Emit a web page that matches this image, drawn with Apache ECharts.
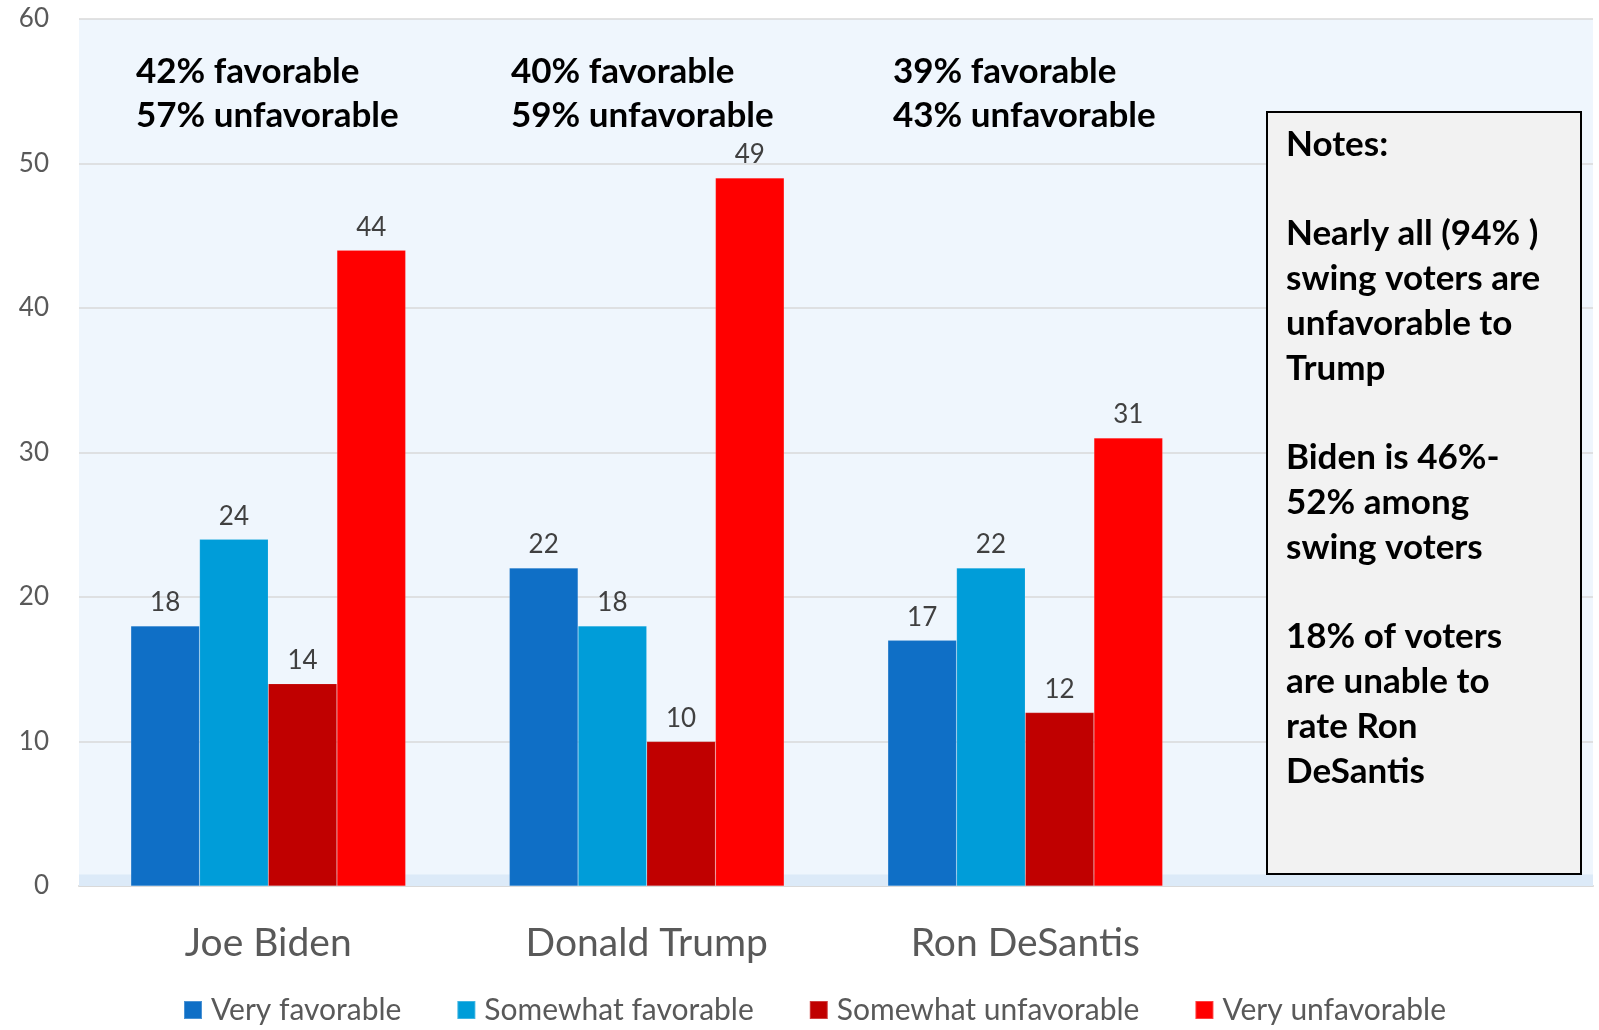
<!DOCTYPE html>
<html>
<head>
<meta charset="utf-8">
<script src="https://cdn.jsdelivr.net/npm/echarts@6/dist/echarts.min.js"></script>
<style>
html,body{margin:0;padding:0;background:#fff;}
#chart{width:1599px;height:1030px;}
</style>
</head>
<body>
<div id="chart"></div>
<script>
const categories = ['Joe Biden', 'Donald Trump', 'Ron DeSantis', ''];
const seriesNames = ['Very favorable', 'Somewhat favorable', 'Somewhat unfavorable', 'Very unfavorable'];
const veryFavorable = [18, 22, 17, '-'];
const somewhatFavorable = [24, 18, 22, '-'];
const somewhatUnfavorable = [14, 10, 12, '-'];
const veryUnfavorable = [44, 49, 31, '-'];
const colors = ['#0F6FC6', '#009DD9', '#C00000', '#FF0000'];
const summaries = [
  '42% favorable\n57% unfavorable',
  '40% favorable\n59% unfavorable',
  '39% favorable\n43% unfavorable'
];
const notesText = 'Notes:\n\nNearly all (94% )\nswing voters are\nunfavorable to\nTrump\n\nBiden is 46%-\n52% among\nswing voters\n\n18% of voters\nare unable to\nrate Ron\nDeSantis';
const yTicks = {min: 0, max: 60, interval: 10};

const FONT = 'Lato, "Open Sans", sans-serif';
const chart = echarts.init(document.getElementById('chart'));

const values = [veryFavorable, somewhatFavorable, somewhatUnfavorable, veryUnfavorable];
const series = values.map((d, i) => ({
  name: seriesNames[i],
  type: 'bar',
  data: d,
  barGap: '0%',
  barCategoryGap: '27.4%',
  itemStyle: {color: colors[i], borderColor: 'rgba(255,255,255,0.25)', borderWidth: 0.5},
  label: {show: true, position: 'top', distance: 10, color: '#404040', fontSize: 26, fontFamily: FONT},
  markArea: i === 0 ? {
    silent: true,
    itemStyle: {color: '#DCEAF8'},
    data: [[{yAxis: 0}, {yAxis: 0.8}]]
  } : undefined
}));

const summaryGraphics = [136, 511, 893].map((x, i) => ({
  type: 'text',
  left: x,
  top: 50,
  z: 100,
  style: {text: summaries[i], font: 'bold 35px ' + FONT, fill: '#000', lineHeight: 44}
}));

chart.setOption({
  animation: false,
  backgroundColor: '#fff',
  color: colors,
  grid: {left: 79, right: 6, top: 19, bottom: 144, show: true, backgroundColor: '#EFF6FD', borderWidth: 0},
  legend: {
    bottom: 0,
    left: 178,
    itemWidth: 18,
    itemHeight: 18,
    itemGap: 55,
    icon: 'rect',
    textStyle: {color: '#595959', fontSize: 30, fontFamily: FONT, padding: [0, 0, 0, 4]}
  },
  xAxis: {
    type: 'category',
    data: categories,
    axisLine: {lineStyle: {color: '#D9D9D9', width: 2}},
    axisTick: {show: false},
    axisLabel: {color: '#595959', fontSize: 39, fontFamily: FONT, margin: 38}
  },
  yAxis: {
    type: 'value',
    min: yTicks.min, max: yTicks.max, interval: yTicks.interval,
    axisLine: {show: false},
    axisTick: {show: false},
    splitLine: {lineStyle: {color: '#D9D9D9', width: 1.5}},
    axisLabel: {color: '#595959', fontSize: 26, fontFamily: FONT, margin: 30}
  },
  series: series,
  graphic: summaryGraphics.concat([
    {
      type: 'rect', left: 1266, top: 111, z: 100,
      shape: {width: 314, height: 762},
      style: {fill: '#F2F2F2', stroke: '#000', lineWidth: 2}
    },
    {
      type: 'text', left: 1286, top: 122, z: 101,
      style: {text: notesText, font: 'bold 35px ' + FONT, fill: '#000', lineHeight: 44.8}
    }
  ])
});
</script>
</body>
</html>
